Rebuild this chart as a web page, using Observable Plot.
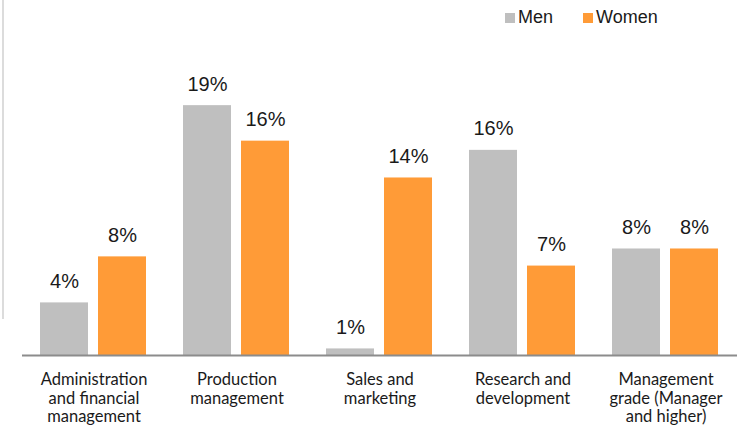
<!DOCTYPE html>
<html>
<head>
<meta charset="utf-8">
<script src="https://cdn.jsdelivr.net/npm/d3@7"></script>
<script src="https://cdn.jsdelivr.net/npm/@observablehq/plot@0.6"></script>
<style>
  html, body { margin: 0; padding: 0; background: #fff; }
  #wrap { position: relative; width: 745px; height: 425px; overflow: hidden; }
  #leftline { position: absolute; left: 2px; top: 0; width: 2px; height: 319px; background: #dcdcdc; }
  #legend { position: absolute; top: 7px; left: 505px; font-family: "Liberation Sans", Arial, sans-serif; font-size: 18px; color: #1a1a1a; display: flex; align-items: center; }
  .item { display: flex; align-items: center; margin-right: 30px; }
  .sw { width: 10px; height: 10px; margin-right: 3px; }
</style>
</head>
<body>
<div id="wrap">
  <div id="leftline"></div>
  <div id="legend"></div>
</div>
<script>
const categories = ["Administration and financial management", "Production management", "Sales and marketing", "Research and development", "Management grade (Manager and higher)"];
const categoryLabels = ["Administration\nand financial\nmanagement", "Production\nmanagement", "Sales and\nmarketing", "Research and\ndevelopment", "Management\ngrade (Manager\nand higher)"];
const seriesNames = ["Men", "Women"];
const seriesColors = ["#bfbfbf", "#ff9b37"];
const menValues = [4.0, 19.0, 0.5, 15.6, 8.1];
const womenValues = [7.5, 16.3, 13.5, 6.8, 8.1];
const menLabels = ["4%", "19%", "1%", "16%", "8%"];
const womenLabels = ["8%", "16%", "14%", "7%", "8%"];

const rows = [];
categories.forEach((c, i) => {
  rows.push({category: c, series: "Men", value: menValues[i], label: menLabels[i]});
  rows.push({category: c, series: "Women", value: womenValues[i], label: womenLabels[i]});
});
const catRows = categories.map((c, i) => ({category: c, label: categoryLabels[i]}));

const chart = Plot.plot({
  width: 745,
  height: 425,
  marginTop: 92,
  marginBottom: 70,
  marginLeft: 20,
  marginRight: 7,
  style: {background: "transparent"},
  fx: {domain: categories, padding: 0, axis: null, label: null},
  x: {domain: seriesNames, paddingInner: 0.17, paddingOuter: 0.3, axis: null},
  y: {domain: [0, 20], axis: null},
  color: {domain: seriesNames, range: seriesColors},
  marks: [
    Plot.barY(rows, {fx: "category", x: "series", y: "value", fill: "series"}),
    Plot.ruleY([0], {stroke: "#8c8c8c", strokeWidth: 2}),
    Plot.text(rows, {fx: "category", x: "series", y: "value", text: "label", lineAnchor: "bottom", dy: -15,
      fontSize: 20, fontFamily: "Liberation Sans, Arial, sans-serif", fill: "#1a1a1a"}),
    Plot.text(catRows, {fx: "category", text: "label", frameAnchor: "bottom", lineAnchor: "top", dy: 17,
      fontSize: 16.5, lineHeight: 1.1, fontFamily: "Lato, sans-serif", fill: "#1a1a1a"})
  ]
});
const wrap = document.getElementById("wrap");
chart.style.position = "absolute";
chart.style.left = "0";
chart.style.top = "0";
wrap.appendChild(chart);

const legend = document.getElementById("legend");
seriesNames.forEach((s, i) => {
  const it = document.createElement("div");
  it.className = "item";
  const sw = document.createElement("div");
  sw.className = "sw";
  sw.style.background = seriesColors[i];
  const t = document.createElement("span");
  t.textContent = s;
  it.appendChild(sw); it.appendChild(t);
  legend.appendChild(it);
});
</script>
</body>
</html>
